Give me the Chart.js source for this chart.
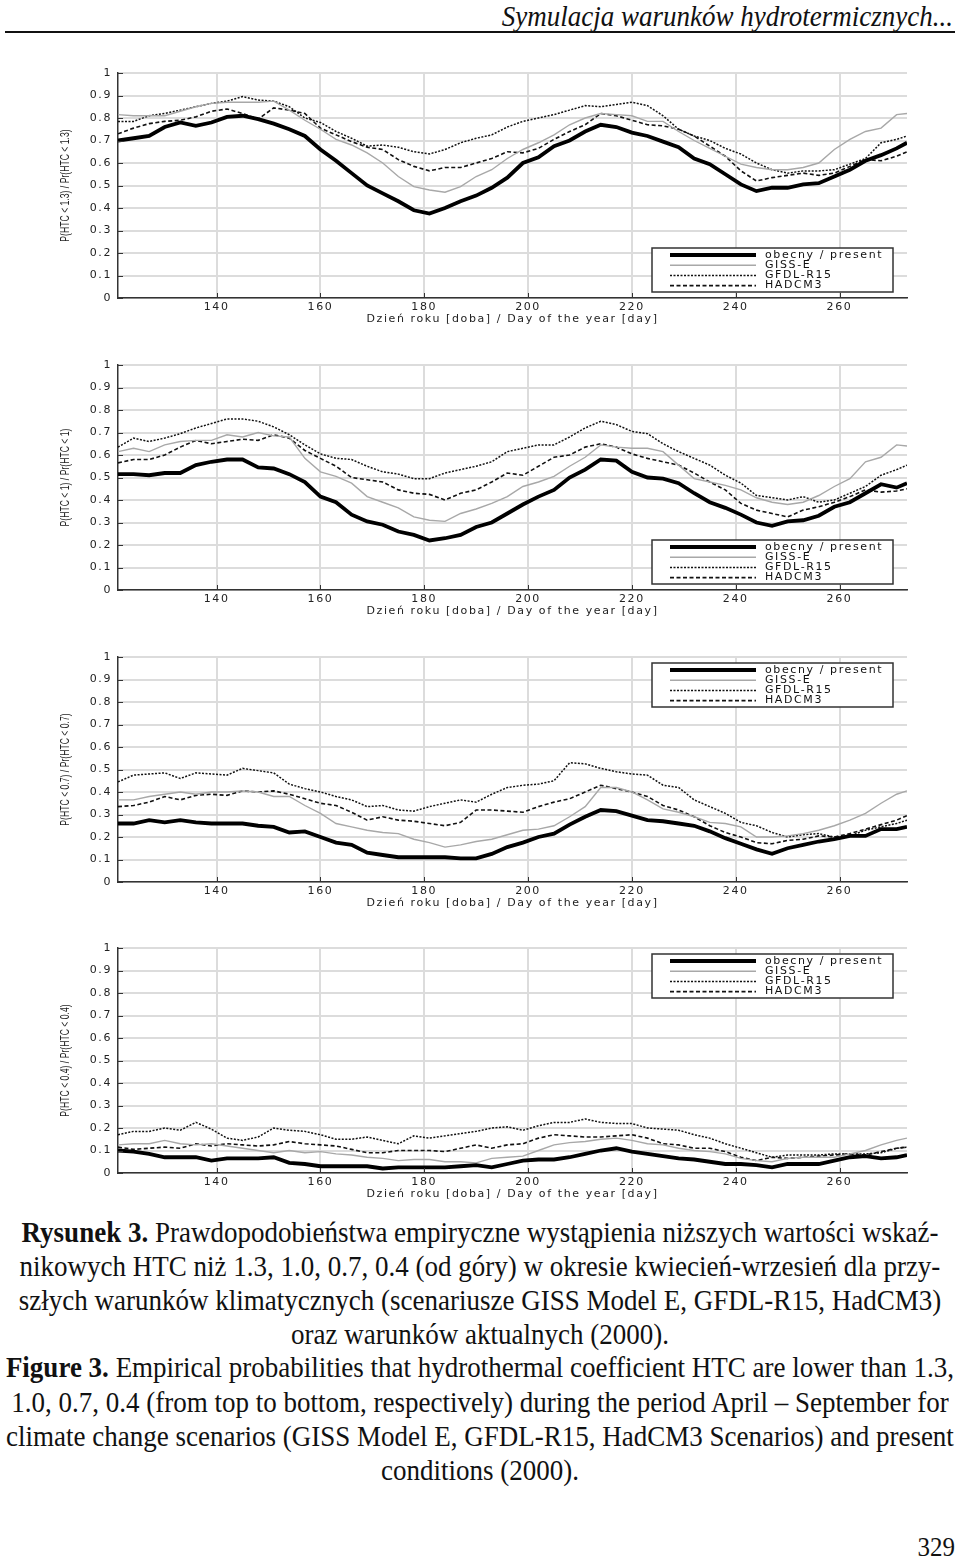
<!DOCTYPE html>
<html>
<head>
<meta charset="utf-8">
<script src="https://cdn.jsdelivr.net/npm/chart.js@4.4.1/dist/chart.umd.min.js"></script>
<style>
  body { margin: 0; background: #fff; width: 960px; height: 1557px; position: relative; overflow: hidden;
         font-family: "Liberation Serif", "Times New Roman", serif; color: #111; }
  .hdr { position: absolute; right: 7px; top: 2px; font-style: italic; font-size: 27px; line-height: 28px;
         transform: scaleY(1.1); transform-origin: right center; }
  .rule { position: absolute; left: 5px; width: 950px; top: 31px; height: 2px; background: #111; }
  .box { position: absolute; left: 0; width: 960px; height: 272px; }
  .cap { position: absolute; left: 0; width: 960px; text-align: center; white-space: nowrap;
         font-size: 27px; line-height: 34px; transform: scaleY(1.12); }
  .pg { position: absolute; right: 5px; top: 1533px; font-size: 25px; line-height: 28px; transform: scaleY(1.1); }
</style>
</head>
<body>
<div class="hdr">Symulacja warunków hydrotermicznych...</div>
<div class="rule"></div>

<div class="box" style="top:58px"><canvas id="c13"></canvas></div>
<div class="box" style="top:350px"><canvas id="c10"></canvas></div>
<div class="box" style="top:642px"><canvas id="c07"></canvas></div>
<div class="box" style="top:933px"><canvas id="c04"></canvas></div>

<div class="cap" style="top:1215px"><b>Rysunek 3.</b> Prawdopodobieństwa empiryczne wystąpienia niższych wartości wskaź-</div>
<div class="cap" style="top:1249px">nikowych HTC niż 1.3, 1.0, 0.7, 0.4 (od góry) w okresie kwiecień-wrzesień dla przy-</div>
<div class="cap" style="top:1283px">szłych warunków klimatycznych (scenariusze GISS Model E, GFDL-R15, HadCM3)</div>
<div class="cap" style="top:1317px">oraz warunków aktualnych (2000).</div>
<div class="cap" style="top:1350px"><b>Figure 3.</b> Empirical probabilities that hydrothermal coefficient HTC are lower than 1.3,</div>
<div class="cap" style="top:1385px">1.0, 0.7, 0.4 (from top to bottom, respectively) during the period April – September for</div>
<div class="cap" style="top:1419px">climate change scenarios (GISS Model E, GFDL-R15, HadCM3 Scenarios) and present</div>
<div class="cap" style="top:1453px">conditions (2000).</div>
<div class="pg">329</div>

<script>
// dzien roku (co 3 dni)
const days = [121,124,127,130,133,136,139,142,145,148,151,154,157,160,163,166,169,172,175,178,
  181,184,187,190,193,196,199,202,205,208,211,214,217,220,223,226,229,232,235,238,
  241,244,247,250,253,256,259,262,265,268,271,273];
const xTicks = [140,160,180,200,220,240,260];
const yTicks = [0,0.1,0.2,0.3,0.4,0.5,0.6,0.7,0.8,0.9,1];
const yTickLabels = ["0","0.1","0.2","0.3","0.4","0.5","0.6","0.7","0.8","0.9","1"];
const seriesNames = ["obecny / present","GISS-E","GFDL-R15","HADCM3"];
const xTitle = "Dzień roku [doba] / Day of the year [day]";

// HTC < 1.3
const pres13 = [0.70,0.71,0.72,0.76,0.78,0.765,0.78,0.805,0.81,0.795,0.775,0.75,0.72,0.66,0.61,0.555,0.50,0.465,0.43,0.39,
  0.375,0.40,0.43,0.455,0.49,0.535,0.60,0.625,0.675,0.70,0.74,0.77,0.76,0.735,0.72,0.695,0.67,0.62,0.595,0.55,
  0.505,0.475,0.49,0.49,0.505,0.51,0.54,0.57,0.61,0.635,0.665,0.69];
const giss13 = [0.815,0.81,0.81,0.81,0.83,0.85,0.865,0.87,0.87,0.87,0.875,0.835,0.79,0.75,0.705,0.68,0.645,0.60,0.54,0.495,
  0.48,0.47,0.495,0.54,0.57,0.62,0.66,0.69,0.725,0.77,0.80,0.82,0.815,0.81,0.785,0.785,0.74,0.70,0.665,0.63,
  0.595,0.58,0.57,0.57,0.58,0.60,0.66,0.705,0.74,0.755,0.815,0.82];
const gfdl13 = [0.785,0.785,0.81,0.82,0.835,0.85,0.865,0.875,0.895,0.88,0.875,0.85,0.80,0.78,0.74,0.71,0.675,0.68,0.67,0.65,
  0.64,0.66,0.69,0.71,0.725,0.76,0.785,0.80,0.815,0.835,0.855,0.85,0.86,0.87,0.855,0.81,0.75,0.72,0.70,0.665,
  0.64,0.60,0.57,0.555,0.565,0.565,0.57,0.595,0.62,0.69,0.705,0.72];
const had13 = [0.73,0.755,0.775,0.785,0.79,0.805,0.83,0.84,0.82,0.795,0.845,0.835,0.82,0.755,0.725,0.695,0.67,0.66,0.615,0.585,
  0.565,0.58,0.58,0.60,0.62,0.65,0.645,0.665,0.705,0.74,0.77,0.82,0.81,0.79,0.77,0.765,0.75,0.72,0.675,0.63,
  0.565,0.52,0.535,0.545,0.555,0.545,0.555,0.585,0.615,0.61,0.63,0.65];

// HTC < 1
const pres10 = [0.515,0.515,0.51,0.52,0.52,0.555,0.57,0.58,0.58,0.545,0.54,0.515,0.48,0.415,0.39,0.335,0.305,0.29,0.26,0.245,
  0.22,0.23,0.245,0.28,0.30,0.34,0.38,0.415,0.445,0.50,0.535,0.58,0.575,0.525,0.50,0.495,0.475,0.43,0.39,0.365,
  0.335,0.30,0.285,0.305,0.31,0.33,0.37,0.39,0.43,0.47,0.455,0.475];
const giss10 = [0.615,0.63,0.615,0.645,0.66,0.665,0.665,0.69,0.68,0.70,0.685,0.68,0.585,0.525,0.505,0.475,0.415,0.39,0.365,0.325,
  0.31,0.305,0.34,0.36,0.385,0.415,0.46,0.48,0.505,0.55,0.59,0.645,0.635,0.63,0.63,0.615,0.555,0.495,0.48,0.465,
  0.445,0.41,0.39,0.38,0.39,0.42,0.46,0.495,0.57,0.59,0.645,0.64];
const gfdl10 = [0.635,0.675,0.66,0.675,0.695,0.72,0.74,0.76,0.76,0.75,0.725,0.69,0.645,0.605,0.585,0.58,0.55,0.525,0.515,0.495,
  0.495,0.52,0.535,0.55,0.57,0.615,0.63,0.645,0.645,0.68,0.72,0.75,0.735,0.705,0.695,0.65,0.615,0.585,0.555,0.51,
  0.475,0.42,0.41,0.40,0.415,0.39,0.40,0.43,0.46,0.51,0.535,0.555];
const had10 = [0.565,0.58,0.58,0.60,0.635,0.665,0.65,0.66,0.67,0.665,0.69,0.675,0.62,0.585,0.55,0.50,0.49,0.48,0.445,0.43,
  0.425,0.40,0.43,0.445,0.48,0.52,0.51,0.55,0.59,0.60,0.635,0.65,0.635,0.605,0.585,0.57,0.555,0.52,0.48,0.445,
  0.385,0.355,0.34,0.325,0.355,0.37,0.39,0.415,0.445,0.435,0.44,0.45];

// HTC < 0.7
const pres07 = [0.26,0.26,0.275,0.265,0.275,0.265,0.26,0.26,0.26,0.25,0.245,0.22,0.225,0.20,0.175,0.165,0.13,0.12,0.11,0.11,
  0.11,0.11,0.105,0.105,0.125,0.155,0.175,0.20,0.215,0.255,0.29,0.32,0.315,0.295,0.275,0.27,0.26,0.25,0.225,0.195,
  0.17,0.145,0.125,0.15,0.165,0.18,0.19,0.205,0.205,0.235,0.235,0.245];
const giss07 = [0.365,0.365,0.38,0.39,0.40,0.39,0.40,0.40,0.405,0.40,0.38,0.38,0.34,0.305,0.26,0.245,0.23,0.22,0.215,0.19,
  0.175,0.155,0.165,0.18,0.19,0.21,0.23,0.235,0.25,0.29,0.335,0.42,0.42,0.40,0.365,0.325,0.31,0.29,0.265,0.26,
  0.245,0.20,0.20,0.205,0.215,0.23,0.25,0.275,0.305,0.35,0.39,0.405];
const gfdl07 = [0.445,0.475,0.48,0.485,0.46,0.485,0.48,0.475,0.505,0.495,0.485,0.435,0.415,0.40,0.38,0.365,0.335,0.34,0.32,0.315,
  0.335,0.35,0.365,0.355,0.39,0.42,0.43,0.435,0.45,0.53,0.525,0.505,0.49,0.48,0.475,0.43,0.42,0.365,0.335,0.305,
  0.265,0.25,0.22,0.20,0.21,0.215,0.20,0.205,0.23,0.245,0.26,0.275];
const had07 = [0.335,0.34,0.355,0.38,0.365,0.385,0.39,0.385,0.405,0.40,0.405,0.39,0.37,0.35,0.34,0.31,0.275,0.29,0.275,0.27,
  0.26,0.25,0.265,0.32,0.32,0.315,0.31,0.335,0.355,0.37,0.40,0.43,0.415,0.40,0.38,0.34,0.32,0.29,0.25,0.22,
  0.20,0.175,0.17,0.185,0.19,0.205,0.20,0.215,0.235,0.255,0.275,0.295];

// HTC < 0.4
const pres04 = [0.10,0.095,0.085,0.07,0.07,0.07,0.055,0.065,0.065,0.065,0.07,0.045,0.04,0.03,0.03,0.03,0.03,0.02,0.025,0.025,
  0.025,0.025,0.03,0.035,0.025,0.04,0.055,0.06,0.06,0.07,0.085,0.10,0.11,0.095,0.085,0.075,0.065,0.06,0.05,0.04,
  0.04,0.035,0.025,0.04,0.04,0.04,0.055,0.07,0.075,0.065,0.07,0.08];
const giss04 = [0.125,0.13,0.13,0.145,0.13,0.125,0.13,0.12,0.11,0.10,0.09,0.10,0.09,0.095,0.085,0.08,0.07,0.065,0.055,0.06,
  0.06,0.05,0.05,0.045,0.065,0.07,0.075,0.10,0.125,0.135,0.14,0.15,0.155,0.145,0.13,0.125,0.11,0.10,0.095,0.085,
  0.065,0.055,0.05,0.065,0.07,0.07,0.07,0.085,0.10,0.125,0.145,0.155];
const gfdl04 = [0.17,0.185,0.185,0.20,0.19,0.225,0.195,0.155,0.145,0.16,0.20,0.19,0.185,0.17,0.15,0.15,0.16,0.145,0.13,0.165,
  0.155,0.165,0.175,0.185,0.20,0.205,0.19,0.21,0.225,0.225,0.24,0.225,0.22,0.22,0.20,0.195,0.19,0.17,0.155,0.13,
  0.11,0.09,0.07,0.08,0.08,0.08,0.085,0.085,0.085,0.09,0.11,0.115];
const had04 = [0.115,0.105,0.11,0.115,0.11,0.13,0.12,0.13,0.125,0.12,0.125,0.14,0.13,0.125,0.12,0.105,0.09,0.09,0.10,0.10,
  0.10,0.095,0.11,0.125,0.11,0.125,0.13,0.155,0.17,0.165,0.16,0.16,0.165,0.17,0.155,0.13,0.125,0.11,0.11,0.095,
  0.07,0.055,0.07,0.065,0.07,0.075,0.08,0.085,0.08,0.095,0.11,0.115];

const tickFont = { family: "DejaVu Sans", size: 11 };

// legenda w ramce, tytul osi Y (zwezony) i krotkie kreski podzialki do wewnatrz
const ramka = {
  id: "ramka",
  beforeDraw(chart) {
    chart.ctx.letterSpacing = "1.6px";
  },
  afterDatasetsDraw(chart, args, opts) {
    const ctx = chart.ctx, a = chart.chartArea;
    const sx = chart.scales.x, sy = chart.scales.y;
    ctx.save();
    ctx.strokeStyle = "#333";
    ctx.lineWidth = 1;
    sy.ticks.forEach(t => {
      const py = Math.round(sy.getPixelForValue(t.value)) + 0.5;
      ctx.beginPath(); ctx.moveTo(a.left, py); ctx.lineTo(a.left + 5, py); ctx.stroke();
    });
    sx.ticks.forEach(t => {
      const px = Math.round(sx.getPixelForValue(t.value)) + 0.5;
      ctx.beginPath(); ctx.moveTo(px, a.bottom); ctx.lineTo(px, a.bottom - 5); ctx.stroke();
    });

    const w = 241, h = 44;
    const bx = a.right - 14 - w;
    const by = opts.top ? a.top + 6 : a.bottom - 6 - h;
    ctx.fillStyle = "#fff";
    ctx.fillRect(bx, by, w, h);
    ctx.lineWidth = 1.5;
    ctx.strokeStyle = "#333";
    ctx.strokeRect(bx, by, w, h);
    ctx.font = "11px 'DejaVu Sans'";
    ctx.textBaseline = "middle";
    ctx.textAlign = "left";
    chart.data.datasets.forEach((ds, i) => {
      const ry = by + 7 + i * 10.2;
      ctx.setLineDash(ds.borderDash || []);
      ctx.strokeStyle = ds.borderColor;
      ctx.lineWidth = ds.borderWidth;
      ctx.beginPath(); ctx.moveTo(bx + 18, ry); ctx.lineTo(bx + 104, ry); ctx.stroke();
      ctx.setLineDash([]);
      ctx.fillStyle = "#111";
      ctx.fillText(ds.label, bx + 113, ry);
    });

    // tytul osi Y
    ctx.letterSpacing = "0px";
    ctx.translate(66, (a.top + a.bottom) / 2);
    ctx.rotate(-Math.PI / 2);
    ctx.scale(0.72, 1);
    ctx.font = "12px 'Liberation Sans'";
    ctx.textAlign = "center";
    ctx.fillStyle = "#222";
    ctx.fillText(opts.yTitle, 0, 0);
    ctx.restore();
  },
  afterDraw(chart) {
    chart.ctx.letterSpacing = "0px";
  }
};

function pts(vals) {
  return days.map((d, i) => ({ x: d, y: vals[i] }));
}

function rysuj(id, series, yTitle, legendTop) {
  const styles = [
    { borderColor: "#000", borderWidth: 3.8 },
    { borderColor: "#a8a8a8", borderWidth: 1.4 },
    { borderColor: "#111", borderWidth: 1.5, borderDash: [2, 1.5] },
    { borderColor: "#111", borderWidth: 1.6, borderDash: [4, 2.5] }
  ];
  new Chart(document.getElementById(id), {
    type: "line",
    data: {
      datasets: series.map((s, i) => Object.assign({
        label: seriesNames[i],
        data: pts(s),
        pointRadius: 0,
        tension: 0,
        fill: false
      }, styles[i]))
    },
    options: {
      responsive: true,
      maintainAspectRatio: false,
      animation: false,
      layout: { padding: { top: 15, right: 53, left: 0, bottom: 0 } },
      plugins: { legend: { display: false }, tooltip: { enabled: false },
                 ramka: { top: legendTop, yTitle: yTitle } },
      scales: {
        x: {
          type: "linear",
          min: 121,
          max: 273,
          afterBuildTicks: s => { s.ticks = xTicks.map(v => ({ value: v })); },
          afterFit: s => { s.height = 32; },
          ticks: { font: tickFont, color: "#222", padding: 3, maxRotation: 0, autoSkip: false },
          grid: { color: "#dcdcdc", lineWidth: 2, drawTicks: false },
          border: { display: true, color: "#333", width: 1.5 },
          title: { display: true, text: xTitle, font: tickFont, color: "#222", padding: { top: 0, bottom: 4 } }
        },
        y: {
          min: 0,
          max: 1,
          afterBuildTicks: s => { s.ticks = yTicks.map(v => ({ value: v })); },
          afterFit: s => { s.width = 118; },
          ticks: { font: tickFont, color: "#222", padding: 6, callback: (v, i) => yTickLabels[i] },
          grid: { color: "#dcdcdc", lineWidth: 2, drawTicks: false },
          border: { display: true, color: "#333", width: 1.5 },
          title: { display: false }
        }
      }
    },
    plugins: [ramka]
  });
}

rysuj("c13", [pres13, giss13, gfdl13, had13], "P(HTC < 1.3) / Pr(HTC < 1.3)", false);
rysuj("c10", [pres10, giss10, gfdl10, had10], "P(HTC < 1) / Pr(HTC < 1)", false);
rysuj("c07", [pres07, giss07, gfdl07, had07], "P(HTC < 0.7) / Pr(HTC < 0.7)", true);
rysuj("c04", [pres04, giss04, gfdl04, had04], "P(HTC < 0.4) / Pr(HTC < 0.4)", true);
</script>
</body>
</html>
